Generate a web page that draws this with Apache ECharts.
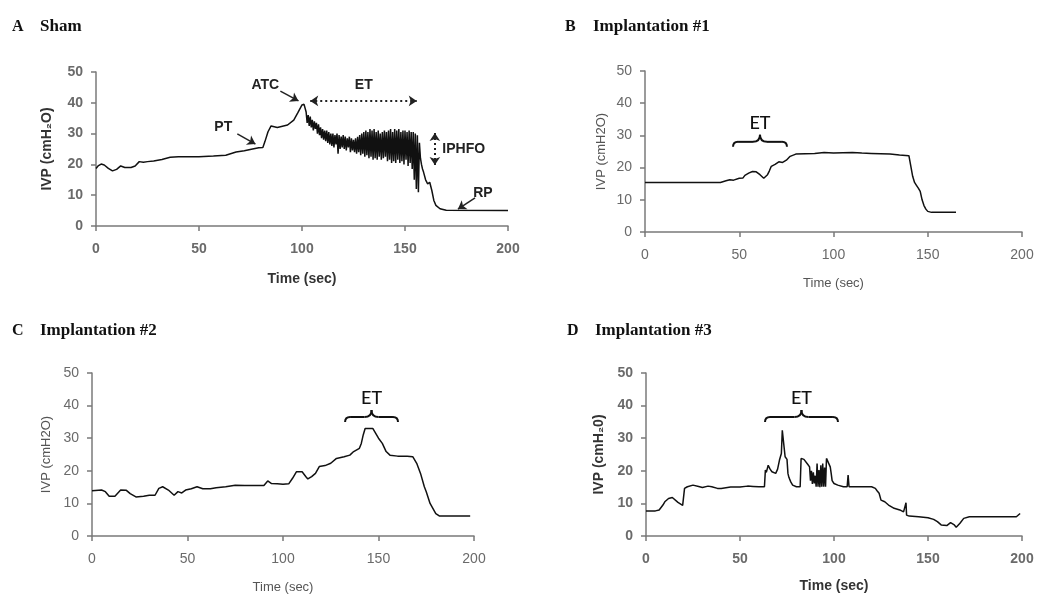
<!DOCTYPE html>
<html><head><meta charset="utf-8">
<style>html,body{margin:0;padding:0;background:#fff}#c{width:1050px;height:608px}</style>
<script src="https://cdn.jsdelivr.net/npm/echarts@6.0.0/dist/echarts.min.js"></script>
</head><body><div id="c"></div>
<script>
// ---------- data ----------
const panelLetters = ['A', 'B', 'C', 'D'];
const panelNames = ['Sham', 'Implantation #1', 'Implantation #2', 'Implantation #3'];
const xAxisTitles = ['Time (sec)', 'Time (sec)', 'Time (sec)', 'Time (sec)'];
const yAxisTitles = ['IVP (cmH\u2082O)', 'IVP (cmH2O)', 'IVP (cmH2O)', 'IVP (cmH\u20820)'];

const shamData = [
[0,18.7],[1,19.5],[2.5,20.1],[4,19.8],[6,18.7],[8,17.9],[10,18.4],[12,19.5],[14,19],[17,19],[19,19.5],[21,20.9],[23,20.7],[25,20.9],[28,21.1],[32,21.6],[36,22.3],[40,22.5],[50,22.5],[57,22.7],[63,23],[68,24],[72,24.4],[76,25],[79,25.4],[81,25.5],[82,27.4],[83.5,30.6],[85,32.5],[88,32],[93,32.8],[96,34.4],[98,36.8],[100,39.3],[101,39.5],
[102.0,37],[102.5,33.5],[103.0,36],[103.5,32.5],[104.0,35.5],[104.5,32],[105.0,34.5],[105.5,31],[106.0,34],[106.5,31.5],[107.0,33.5],[107.5,30],[108.0,33],[108.5,29.5],[109.0,32],[109.5,28.5],[110.0,31.5],[110.5,28],[111.0,31],[111.5,27.5],[112.0,31],[112.5,27],[113.0,30.5],[113.5,26.5],[114.0,30],[114.5,26],[115.0,30],[115.5,25.5],[116.0,29.5],[116.5,26.5],[117.0,30],[117.5,23.5],[118.0,29.5],[118.5,25],[119.0,29],[119.5,25.5],[120.0,29.5],[120.5,25],[121.0,29],[121.5,24.5],[122.0,28.5],[122.5,25.5],[123.0,29],[123.5,24],[124.0,28.5],[124.5,24.5],[125.0,28],[125.5,24],[126.0,28.5],[126.5,23.5],[127.0,29],[127.5,24],[128.0,29.5],[128.5,23],[129.0,30],[129.5,23.5],[130.0,30.5],[130.5,22.5],[131.0,31],[131.5,23],[132.0,30.5],[132.5,22],[133.0,31.5],[133.5,22.5],[134.0,31],[134.5,21.5],[135.0,31.5],[135.5,22],[136.0,30.5],[136.5,21.5],[137.0,31],[137.5,22.5],[138.0,30],[138.5,21.5],[139.0,30.5],[139.5,22],[140.0,31],[140.5,22.5],[141.0,30.5],[141.5,21],[142.0,31],[142.5,21.5],[143.0,31.5],[143.5,20.5],[144.0,30.5],[144.5,21],[145.0,31.5],[145.5,20.5],[146.0,31],[146.5,21.5],[147.0,31.5],[147.5,20.5],[148.0,30.5],[148.5,21],[149.0,31],[149.5,20],[150.0,31],[150.5,21.5],[151.0,30.5],[151.5,19.5],[152.0,31],[152.5,20.5],[153.0,30.5],[153.5,18.5],[154.0,30.5],[154.5,15],[155.0,30],[155.5,12],[156.0,29.5],[156.5,11],[157.0,27],[157.5,22],[158.0,20],
[158.5,18.5],[159,17.5],[160,15],[161,13.7],[162,14.2],[163,11.6],[164,8.3],[165,6.7],[167,5.6],[170,5.1],[200,5]
];

const implant1Data = [
[0,15.4],[40,15.4],[41,15.7],[43,15.9],[45,16.2],[47,16.1],[48,16.6],[50,16.7],[51,17],[52,16.8],[53,17.6],[54,17.4],[55,18.3],[56,18],[57,18.8],[58,18.5],[59,18.7],[60,18.3],[61,17.8],[62,17.3],[63,16.7],[64,17.2],[65,17.8],[66,19],[67,20.4],[68,20],[69,21],[70,21.4],[71,21.8],[72,22.4],[73,21.6],[74,21.4],[75,22.3],[76,22.9],[77,23.5],[78,23.9],[80,24.2],[85,24.3],[90,24.4],[95,24.7],[100,24.5],[105,24.6],[110,24.7],[115,24.5],[120,24.4],[125,24.3],[130,24.2],[135,23.9],[140,23.7],[141,23.5],[142,17.3],[143,15.4],[144,14.5],[145,13.6],[146,12.6],[147,10],[148,8.2],[149,7.1],[150,6.4],[152,6.1],[165,6.1]
];

const implant2Data = [
[0,13.9],[5,14.1],[7,13.6],[9,12.2],[12,12.2],[15,14.1],[18,14],[20,13],[23,12],[27,12.2],[30,12.5],[33,12.5],[35,14.6],[37,15.1],[40,14.1],[43,12.5],[45,13.6],[47,13.2],[49,14.1],[52,14.5],[55,15.1],[58,14.5],[62,14.5],[65,14.8],[70,15.1],[75,15.6],[80,15.5],[85,15.5],[90,15.5],[92,16.9],[94,16.1],[97,16],[100,15.9],[103,16],[105,17.7],[107,19.7],[110,19.7],[112,18.2],[113,17.5],[115,18.2],[117,19.2],[119,21.3],[122,21.6],[125,22.3],[128,23.8],[132,24.3],[135,24.8],[137,25.9],[140,26.9],[141,28.4],[142,31],[143,33],[147,33],[148,32],[150,30],[152,28.4],[154,25.9],[156,24.8],[160,24.5],[165,24.5],[168,24.3],[170,22.3],[172,19.2],[174,15.1],[175,13.6],[177,10],[180,6.9],[182,6.1],[198,6.1]
];

const implant3Data = [
[0,7.7],[5,7.7],[7,8],[9,9.5],[10,10.5],[12,11.5],[13,12],[14,11.8],[15,11.3],[17,10.3],[18,10],[19.5,9.4],[20,9.8],[20.5,14.6],[22,15.1],[25,15.6],[28,15.2],[30,14.9],[33,15.3],[35,15.1],[38,14.6],[40,14.6],[45,15],[50,15],[54,15.3],[55,15.6],[57,15.2],[60,15.1],[63,15.1],[63.5,20.2],[64,19.5],[65,21.7],[66,20.5],[67,19.7],[69,19.2],[70,20.5],[71,23.3],[72,25.3],[72.5,32.4],[73.5,32.4],[74,24.3],[75,23.5],[75.5,19.2],[76,18],[77,16.6],[78,15.6],[80,15.1],[82,15.1],[82.5,23.8],[84,23.5],[85,23.3],[86,22],[87,21.2],[87.5,17],[88,20],[88.5,16],[89,19.5],[89.5,16.1],[90,18.5],[90.5,15.1],[91,22.2],[91.5,15.1],[92,20.2],[92.5,15],[93,21.7],[93.5,15.1],[94,22.2],[94.5,15.1],[95,21],[95.5,15.1],[96,23.8],[97,23.8],[98,21.2],[98.5,19.2],[99,17],[100,16.1],[102,15.6],[105,15.1],[107,15.1],[107.5,18.7],[108,15.1],[110,15.1],[120,15.1],[122,14.6],[123,13.8],[124,13.1],[125,11],[126,11.2],[127,10.5],[128,10.3],[129,9.5],[130,9],[132,8.5],[135,8],[137,7.4],[138,6.9],[138.3,10.2],[138.6,6.4],[140,6.1],[145,5.9],[150,5.6],[153,5.1],[155,4.4],[157,3.4],[160,3.2],[162,4.1],[164,3.4],[165,2.7],[167,3.9],[169,5.4],[172,5.9],[180,5.9],[190,5.9],[197,5.9],[199,6.9]
];
const allData = [shamData, implant1Data, implant2Data, implant3Data];

// annotation positions (data coordinates)
const shamLabels = [
  {text: 'ATC', at: [82.2, 45.8]},
  {text: 'PT', at: [61.8, 32.1]},
  {text: 'ET', at: [130, 45.8]},
  {text: 'IPHFO', at: [178.5, 25]},
  {text: 'RP', at: [187.8, 10.7]}
];
const shamArrows = [
  {from: [89.5, 43.8], to: [98.3, 40.6], dotted: false, both: false},
  {from: [68.6, 29.9], to: [77.4, 26.6], dotted: false, both: false},
  {from: [104, 40.6], to: [155.7, 40.6], dotted: true, both: true},
  {from: [164.5, 30.2], to: [164.5, 19.8], dotted: true, both: true},
  {from: [184, 9.1], to: [175.7, 5.5], dotted: false, both: false}
];
// ET braces for B, C, D: [gridIndex, tStart, tEnd, level]
const etBraces = [[1, 46.7, 75.3, 28], [2, 132.5, 160.2, 36.5], [3, 63.3, 102.1, 36.5]];

// ---------- layout ----------
const grids = [
  {left: 96, top: 72, width: 412, height: 154},
  {left: 645, top: 71, width: 377, height: 161},
  {left: 92, top: 373, width: 382, height: 163},
  {left: 646, top: 373, width: 376, height: 163}
];
const titlePos = [[12, 27], [565, 27], [12, 331], [567, 331]];
const boldAxis = [true, false, false, true];
const xNameGap = [46, 45, 45, 43];
const yNameGap = [42, 37, 39, 40];

const chart = echarts.init(document.getElementById('c'), null, {renderer: 'canvas'});
const FONT = '"Liberation Sans", Arial, sans-serif';

const xAxes = grids.map((g, i) => ({
  type: 'value', gridIndex: i, min: 0, max: 200, interval: 50,
  name: xAxisTitles[i], nameLocation: 'middle', nameGap: xNameGap[i],
  nameTextStyle: {fontFamily: FONT, fontSize: boldAxis[i] ? 14 : 13, fontWeight: boldAxis[i] ? 'bold' : 'normal', color: boldAxis[i] ? '#333' : '#555'},
  axisLine: {show: true, onZero: false, lineStyle: {color: '#7a7a7a', width: 1.5}},
  axisTick: {show: true, length: 5, lineStyle: {color: '#7a7a7a', width: 1.5}},
  axisLabel: {margin: 16, fontFamily: FONT, fontSize: 14, color: '#6a6a6a', fontWeight: boldAxis[i] ? 'bold' : 'normal'},
  splitLine: {show: false}
}));
const yAxes = grids.map((g, i) => ({
  type: 'value', gridIndex: i, min: 0, max: 50, interval: 10,
  name: yAxisTitles[i], nameLocation: 'middle', nameGap: yNameGap[i], nameRotate: 90,
  nameTextStyle: {fontFamily: FONT, fontSize: boldAxis[i] ? 14 : 13, fontWeight: boldAxis[i] ? 'bold' : 'normal', color: boldAxis[i] ? '#333' : '#555'},
  axisLine: {show: true, lineStyle: {color: '#7a7a7a', width: 1.5}},
  axisTick: {show: true, length: 5, lineStyle: {color: '#7a7a7a', width: 1.5}},
  axisLabel: {margin: 13, fontFamily: FONT, fontSize: 14, color: '#6a6a6a', fontWeight: boldAxis[i] ? 'bold' : 'normal'},
  splitLine: {show: false}
}));

const markLineData = shamArrows.map(a => [
  {coord: a.from, symbol: a.both ? 'arrow' : 'none', lineStyle: {type: a.dotted ? [2, 3] : 'solid', width: a.dotted ? 2 : 1.5}},
  {coord: a.to, symbol: 'arrow'}
]);

const series = allData.map((d, i) => {
  const s = {
    type: 'line', xAxisIndex: i, yAxisIndex: i, data: d,
    showSymbol: false, symbol: 'none', animation: false, silent: true,
    lineStyle: {color: '#111', width: 1.5}
  };
  if (i === 0) {
    s.markLine = {
      silent: true, animation: false, symbolSize: 8,
      label: {show: false},
      lineStyle: {color: '#222'},
      emphasis: {disabled: true},
      data: markLineData
    };
  }
  return s;
});

chart.setOption({
  animation: false,
  backgroundColor: '#fff',
  grid: grids.map(g => Object.assign({containLabel: false}, g)),
  xAxis: xAxes, yAxis: yAxes, series: series
});

// ---------- graphics (titles, labels, braces) ----------
const graphics = [];
titlePos.forEach((p, i) => {
  graphics.push({type: 'text', x: p[0], y: p[1], silent: true,
    style: {text: panelLetters[i], font: 'bold 16px "Liberation Serif", "Times New Roman", serif', fill: '#111', verticalAlign: 'middle'}});
  graphics.push({type: 'text', x: p[0] + 28, y: p[1], silent: true,
    style: {text: panelNames[i], font: 'bold 17px "Liberation Serif", "Times New Roman", serif', fill: '#111', verticalAlign: 'middle'}});
});
shamLabels.forEach(l => {
  const p = chart.convertToPixel({gridIndex: 0}, l.at);
  graphics.push({type: 'text', x: p[0], y: p[1], silent: true,
    style: {text: l.text, font: 'bold 14px "Liberation Sans", Arial, sans-serif', fill: '#222', align: 'center', verticalAlign: 'middle'}});
});
const braceStyle = {stroke: '#111', lineWidth: 2, fill: null};
etBraces.forEach(b => {
  const gi = b[0];
  const p1 = chart.convertToPixel({gridIndex: gi}, [b[1], b[3]]);
  const p2 = chart.convertToPixel({gridIndex: gi}, [b[2], b[3]]);
  const x1 = p1[0], x2 = p2[0], y = p1[1], xm = (x1 + x2) / 2;
  const h = 5, tip = 7;
  const curves = [
    [x1, y + h, x1 + h, y, x1, y],
    [xm - tip, y, xm, y - tip, xm, y],
    [xm, y - tip, xm + tip, y, xm, y],
    [x2 - h, y, x2, y + h, x2, y]
  ];
  curves.forEach(c => graphics.push({type: 'bezierCurve', silent: true,
    shape: {x1: c[0], y1: c[1], x2: c[2], y2: c[3], cpx1: c[4], cpy1: c[5]}, style: braceStyle}));
  graphics.push({type: 'line', silent: true, shape: {x1: x1 + h, y1: y, x2: xm - tip, y2: y}, style: braceStyle});
  graphics.push({type: 'line', silent: true, shape: {x1: xm + tip, y1: y, x2: x2 - h, y2: y}, style: braceStyle});
  graphics.push({type: 'text', x: xm, y: y - tip - 12, silent: true,
    style: {text: 'ET', font: '500 18px Lato, "Noto Sans", sans-serif', fill: '#111', align: 'center', verticalAlign: 'middle'}});
});
chart.setOption({graphic: graphics});
</script></body></html>
